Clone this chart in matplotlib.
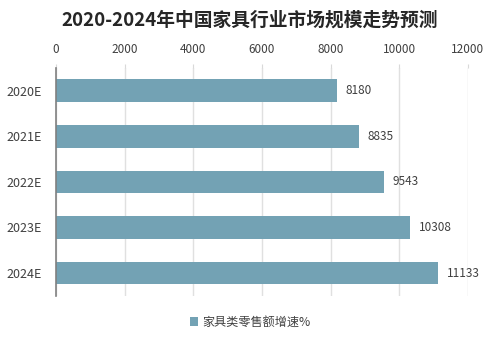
import numpy as np
import matplotlib.pyplot as plt

# Data
years = ["2020E", "2021E", "2022E", "2023E", "2024E"]
values = [8180, 8835, 9543, 10308, 11133]
legend_label = "家具类零售额增速%"
title = "2020-2024年中国家具行业市场规模走势预测"

plt.rcParams["font.family"] = ["Noto Sans CJK SC", "DejaVu Sans"]

bar_color = "#73A2B4"
text_color = "#404040"

fig = plt.figure(figsize=(5, 3.42), dpi=100)
ax = fig.add_axes([0.112, 0.135, 0.824, 0.666])

y = np.arange(len(years))
ax.barh(y, values, height=0.5, color=bar_color, label=legend_label, zorder=2)

ax.set_xlim(0, 12000)
ax.set_ylim(len(years) - 0.5, -0.5)
ax.set_yticks(y)
ax.set_yticklabels(years, fontsize=9, color=text_color)
ax.set_xticks(np.arange(0, 12001, 2000))
ax.xaxis.tick_top()
ax.tick_params(axis="x", labelsize=8.5, colors=text_color, length=3, width=0.8,
               pad=6)
ax.tick_params(axis="x", color="#d9d9d9")
ax.tick_params(axis="y", length=0, pad=10)
ax.grid(axis="x", color="#e0e0e0", linewidth=1, zorder=0)

for s in ["top", "right", "bottom"]:
    ax.spines[s].set_visible(False)
ax.spines["left"].set_color("#808080")
ax.spines["left"].set_linewidth(1.2)

for i, v in enumerate(values):
    ax.text(v + 250, i, str(v), va="center", ha="left", fontsize=8.5,
            color=text_color)

fig.suptitle(title, fontsize=13.5, fontweight="bold", color="#262626", y=0.97)

fig.legend(loc="center", bbox_to_anchor=(0.5, 0.058), frameon=False,
           fontsize=8.7, handlelength=0.7, handleheight=0.7, handletextpad=0.3,
           labelcolor=text_color)

fig.savefig("out.png", dpi=100, facecolor="white")
